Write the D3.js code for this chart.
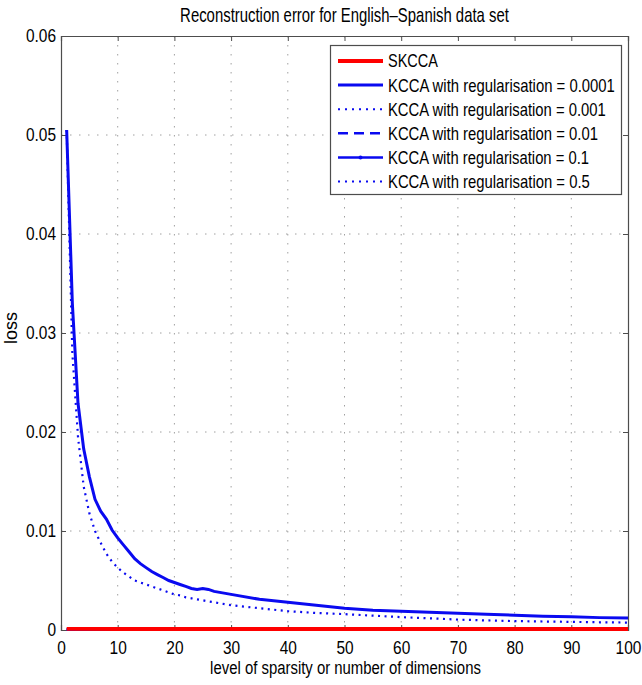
<!DOCTYPE html>
<html><head><meta charset="utf-8">
<script src="https://cdn.jsdelivr.net/npm/d3@7"></script>
<style>
html,body{margin:0;padding:0;background:#fff;}
svg text{font-family:"Liberation Sans",Arial,sans-serif;fill:#000;}
</style></head>
<body><svg id="c" width="642" height="685"></svg>
<script>
// ---- data ----
const titleText = "Reconstruction error for English\u2013Spanish data set";
const xLabel = "level of sparsity or number of dimensions";
const yLabel = "loss";
const xTicks = [0,10,20,30,40,50,60,70,80,90,100];
const yTicks = [0,0.01,0.02,0.03,0.04,0.05,0.06];
const yTickLabels = ["0","0.01","0.02","0.03","0.04","0.05","0.06"];

const xsMain = [1,2,3,4,5,6,7,8,9,10,11,12,13,14,15,16,17,18,19,20,21,22,23,24,25,26,27,28,29,30,35,40,45,50,55,60,65,70,75,80,85,90,95,100];
const kcca0001 = [0.0505,0.0330,0.0229,0.0183,0.0155,0.0132,0.0120,0.0112,0.0101,0.0093,0.0086,0.0079,0.0072,0.0067,0.0063,0.0059,0.0056,0.0053,0.0050,0.0048,0.0046,0.0044,0.0042,0.0041,0.0042,0.0041,0.0039,0.0038,0.0037,0.0036,0.0031,0.0028,0.0025,0.0022,0.0020,0.0019,0.0018,0.0017,0.0016,0.0015,0.0014,0.00135,0.00125,0.0012];
const kcca001 = [0.0505,0.0280,0.0195,0.0145,0.0118,0.0100,0.0088,0.0077,0.0069,0.0063,0.0058,0.0054,0.0050,0.0048,0.0046,0.0044,0.0042,0.0040,0.0038,0.0036,0.0035,0.0033,0.0032,0.0031,0.0030,0.00288,0.0028,0.0027,0.0026,0.0025,0.0022,0.0019,0.00172,0.0016,0.00145,0.0013,0.00118,0.00105,0.00097,0.0009,0.00086,0.00082,0.00078,0.00075];

const xsLow = [1,10,20,30,40,50,60,70,80,90,100];
const skcca   = [0.00012,0.0001,0.0001,0.0001,0.0001,0.0001,0.0001,0.0001,0.0001,0.0001,0.0001];
const kcca01  = [0.00008,0.00008,0.00008,0.00008,0.00008,0.00008,0.00008,0.00008,0.00008,0.00008,0.00008];
const kcca1   = [0.00005,0.00005,0.00005,0.00005,0.00005,0.00005,0.00005,0.00005,0.00005,0.00005,0.00005];
const kcca5   = [0.00003,0.00003,0.00003,0.00003,0.00003,0.00003,0.00003,0.00003,0.00003,0.00003,0.00003];

const legendLabels = ["SKCCA","KCCA with regularisation = 0.0001","KCCA with regularisation = 0.001","KCCA with regularisation = 0.01","KCCA with regularisation = 0.1","KCCA with regularisation = 0.5"];

// ---- layout ----
const L = 61, R = 628, T = 36, B = 630;
const BLUE = "#0a0af0", RED = "#ff0000", AX = "#4d4d4d";
const svg = d3.select("#c");
const x = d3.scaleLinear().domain([0,100]).range([L,R]);
const y = d3.scaleLinear().domain([0,0.06]).range([B,T]);

// horizontally condense a text element about its own x anchor
function condense(node, ratio){
  const x0 = +(node.getAttribute("x") || 0);
  node.setAttribute("transform", `translate(${x0},0) scale(${ratio},1) translate(${-x0},0)`);
}
function condenseTo(node, width){
  const w = node.getComputedTextLength();
  condense(node, width / w);
}

// grid
const g = svg.append("g");
g.selectAll("line.gx").data(xTicks.slice(1,-1)).join("line")
  .attr("x1",d=>x(d)).attr("x2",d=>x(d)).attr("y1",T).attr("y2",B)
  .attr("stroke","#a0a0a0").attr("stroke-width",1).attr("stroke-dasharray","1.5,7.5");
g.selectAll("line.gy").data(yTicks.slice(1,-1)).join("line")
  .attr("y1",d=>y(d)).attr("y2",d=>y(d)).attr("x1",L).attr("x2",R)
  .attr("stroke","#a0a0a0").attr("stroke-width",1).attr("stroke-dasharray","1.5,7.5");

// axes (ticks inward)
const axB = svg.append("g").attr("transform",`translate(0,${B})`)
  .call(d3.axisBottom(x).tickValues(xTicks).tickSize(-5).tickPadding(11).tickFormat(d3.format("d")));
const axT = svg.append("g").attr("transform",`translate(0,${T})`)
  .call(d3.axisTop(x).tickValues(xTicks).tickSize(-5).tickFormat(""));
const axLft = svg.append("g").attr("transform",`translate(${L},0)`)
  .call(d3.axisLeft(y).tickValues(yTicks).tickSize(-5).tickPadding(5).tickFormat((d,i)=>yTickLabels[i]));
const axRt = svg.append("g").attr("transform",`translate(${R},0)`)
  .call(d3.axisRight(y).tickValues(yTicks).tickSize(-5).tickFormat(""));
[axB,axT,axLft,axRt].forEach(a=>{
  a.selectAll("path").attr("stroke",AX).attr("stroke-width",1.2);
  a.selectAll("line").attr("stroke",AX).attr("stroke-width",1);
  a.selectAll("text").attr("font-size",18).attr("fill","#000")
   .attr("font-family","'Liberation Sans',Arial,sans-serif")
   .each(function(){ condense(this, 0.86); });
});

// lines
const line = (xs) => d3.line().x((d,i)=>x(xs[i])).y(d=>y(d));
const plot = svg.append("g");
plot.append("path").datum(kcca5).attr("d",line(xsLow)).attr("fill","none").attr("stroke",BLUE).attr("stroke-width",2).attr("stroke-dasharray","2,4");
plot.append("path").datum(kcca1).attr("d",line(xsLow)).attr("fill","none").attr("stroke",BLUE).attr("stroke-width",2.5);
plot.append("path").datum(kcca01).attr("d",line(xsLow)).attr("fill","none").attr("stroke",BLUE).attr("stroke-width",2.5).attr("stroke-dasharray","9,7");
plot.append("path").datum(kcca001).attr("d",line(xsMain)).attr("fill","none").attr("stroke",BLUE).attr("stroke-width",2.2).attr("stroke-dasharray","2,4.5");
plot.append("path").datum(kcca0001).attr("d",line(xsMain)).attr("fill","none").attr("stroke",BLUE).attr("stroke-width",3);
plot.append("path").datum(skcca).attr("d",line(xsLow)).attr("fill","none").attr("stroke",RED).attr("stroke-width",3.8);

// title & labels
const tt = svg.append("text").attr("x",(L+R)/2).attr("y",22).attr("text-anchor","middle").attr("font-size",20).text(titleText);
condenseTo(tt.node(), 329);
const xl = svg.append("text").attr("x",(L+R)/2+1).attr("y",674).attr("text-anchor","middle").attr("font-size",19).text(xLabel);
condenseTo(xl.node(), 271);
svg.append("text").attr("transform",`translate(17,${(T+B)/2 - 5}) rotate(-90)`).attr("text-anchor","middle")
  .attr("font-size",18).text(yLabel);

// legend
const lg = svg.append("g");
lg.append("rect").attr("x",330.5).attr("y",45.5).attr("width",291).attr("height",149)
  .attr("fill","#fff").attr("stroke",AX).attr("stroke-width",1.2);
const styles = [
  {c:RED,w:3.8,dash:null,mark:false},
  {c:BLUE,w:3,dash:null,mark:false},
  {c:BLUE,w:2,dash:"2,5",mark:false},
  {c:BLUE,w:2.5,dash:"10,6",mark:false},
  {c:BLUE,w:2.5,dash:null,mark:true},
  {c:BLUE,w:2,dash:"2,5",mark:false}
];
const legendTextW = [50,227,218,210,201,202];
legendLabels.forEach((lab,i)=>{
  const yy = 61 + i*24.1;
  const s = styles[i];
  const ln = lg.append("line").attr("x1",338).attr("x2",383).attr("y1",yy).attr("y2",yy)
    .attr("stroke",s.c).attr("stroke-width",s.w);
  if (s.dash) ln.attr("stroke-dasharray",s.dash);
  if (s.mark) lg.append("circle").attr("cx",360.5).attr("cy",yy).attr("r",2).attr("fill",s.c);
  const t = lg.append("text").attr("x",388).attr("y",yy+6.5).attr("font-size",17.5).text(lab);
  condenseTo(t.node(), legendTextW[i]);
});
</script></body></html>
